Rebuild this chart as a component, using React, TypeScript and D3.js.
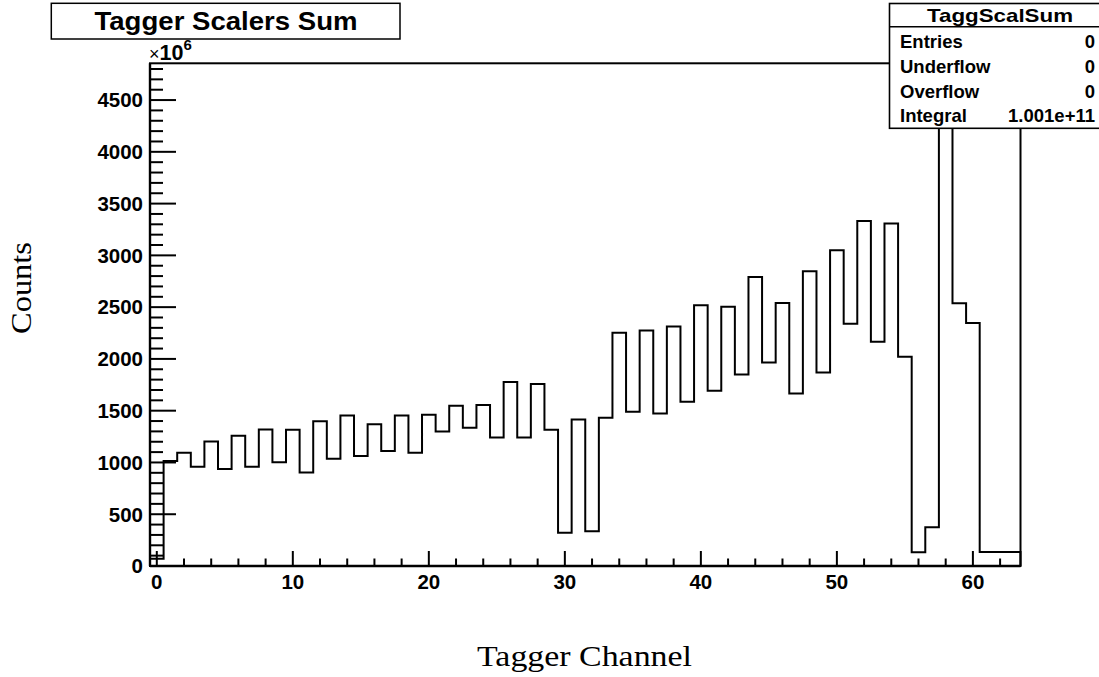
import React from "react";
import * as d3 from "d3";

// Tagger scaler sums per channel (units of 10^6 counts)
const channels: number[] = d3.range(0, 64);
const counts: number[] = [
  70, 1013, 1094, 959, 1203, 936, 1258, 959, 1319, 1001,
  1316, 904, 1397, 1036, 1454, 1062, 1368, 1110, 1454, 1094,
  1461, 1300, 1548, 1335, 1554, 1242, 1776, 1242, 1757, 1316,
  322, 1416, 335, 1432, 2252, 1490, 2275, 1474, 2314, 1586,
  2519, 1692, 2503, 1850, 2790, 1966, 2539, 1667, 2847, 1870,
  3050, 2339, 3333, 2165, 3308, 2020, 132, 375, 4620, 2538,
  2348, 135, 135, 135,
];
const xMajorTicks: number[] = [0, 10, 20, 30, 40, 50, 60];
const yMajorTicks: number[] = [0, 500, 1000, 1500, 2000, 2500, 3000, 3500, 4000, 4500];
const statsRows: [string, string][] = [
  ["Entries", "0"],
  ["Underflow", "0"],
  ["Overflow", "0"],
  ["Integral", "1.001e+11"],
];
const titleText = "Tagger Scalers Sum";
const statsTitle = "TaggScalSum";
const xTitle = "Tagger Channel";
const yTitle = "Counts";

const W = 1099;
const H = 677;
const L = 150, R = 1020.5, T = 63.3, B = 566;
const SANS = "'Liberation Sans', Arial, Helvetica, sans-serif";
const SERIF = "'Liberation Serif', 'Times New Roman', serif";

export default function App() {
  const x = d3.scaleLinear().domain([-0.5, 63.5]).range([L, R]);
  const y = d3.scaleLinear().domain([0, 4855]).range([B, T]);

  const pts: [number, number][] = [[-0.5, 0]];
  channels.forEach((c, i) => {
    pts.push([c - 0.5, counts[i]]);
    pts.push([c + 0.5, counts[i]]);
  });
  pts.push([63.5, 0]);
  const line = d3.line<[number, number]>().x((d) => x(d[0])).y((d) => y(d[1]));

  const xMinor = d3.range(0, 63.5, 2).filter((v) => v % 10 !== 0);
  const yMinor = d3.range(0, 4855, 100).filter((v) => v % 500 !== 0);

  const statsL = 889.5, statsR = 1110, statsT = 3.5, statsSep = 26.7, statsB = 128.3;
  const rowBase = [48, 73.2, 98.4, 122];

  return (
    <svg
      width={W}
      height={H}
      style={{ position: "fixed", left: 0, top: 0, background: "#fff" }}
    >
      <rect x={0} y={0} width={W} height={H} fill="#fff" />
      {/* frame */}
      <rect x={L} y={T} width={R - L} height={B - T} fill="none" stroke="#000" strokeWidth={2} />
      {/* histogram */}
      <path d={line(pts) || ""} fill="none" stroke="#000" strokeWidth={2} />
      {/* x axis */}
      <line x1={L} x2={R} y1={B} y2={B} stroke="#000" strokeWidth={2.4} />
      {xMajorTicks.map((t) => (
        <g key={"xm" + t}>
          <line x1={x(t)} x2={x(t)} y1={B} y2={B - 15} stroke="#000" strokeWidth={2} />
          <text x={x(t)} y={588.5} textAnchor="middle" fontFamily={SANS} fontWeight="bold" fontSize={20.5}>
            {t}
          </text>
        </g>
      ))}
      {xMinor.map((t) => (
        <line key={"xn" + t} x1={x(t)} x2={x(t)} y1={B} y2={B - 7.5} stroke="#000" strokeWidth={2} />
      ))}
      {/* y axis */}
      <line x1={L} x2={L} y1={T} y2={B} stroke="#000" strokeWidth={2.4} />
      {yMajorTicks.map((t) => (
        <g key={"ym" + t}>
          <line x1={L} x2={L + 26} y1={y(t)} y2={y(t)} stroke="#000" strokeWidth={2} />
          <text x={143} y={y(t) + 7.3} textAnchor="end" fontFamily={SANS} fontWeight="bold" fontSize={20.5}>
            {t}
          </text>
        </g>
      ))}
      {yMinor.map((t) => (
        <line key={"yn" + t} x1={L} x2={L + 13} y1={y(t)} y2={y(t)} stroke="#000" strokeWidth={2} />
      ))}
      {/* exponent */}
      <text x={149} y={60} fontFamily={SANS} fontSize={19}>
        <tspan fontWeight="normal" fontSize={18}>×</tspan>
        <tspan fontWeight="bold" fontSize={21.5}>10</tspan>
        <tspan fontWeight="bold" fontSize={15} dy={-10}>6</tspan>
      </text>
      {/* axis titles */}
      <text x={584.5} y={665.5} textAnchor="middle" fontFamily={SERIF} fontSize={30} textLength={215} lengthAdjust="spacingAndGlyphs">
        {xTitle}
      </text>
      <text
        transform={`translate(31,288) rotate(-90)`}
        textAnchor="middle"
        fontFamily={SERIF}
        fontSize={30}
        textLength={92}
        lengthAdjust="spacingAndGlyphs"
      >
        {yTitle}
      </text>
      {/* title box */}
      <rect x={51.3} y={3.3} width={348.7} height={35.7} fill="#fff" stroke="#000" strokeWidth={1.5} />
      <text x={226} y={30} textAnchor="middle" fontFamily={SANS} fontWeight="bold" fontSize={26.5} textLength={263} lengthAdjust="spacingAndGlyphs">
        {titleText}
      </text>
      {/* stats box */}
      <rect x={statsL} y={statsT} width={statsR - statsL} height={statsB - statsT} fill="#fff" stroke="#000" strokeWidth={1.6} />
      <line x1={statsL} x2={statsR} y1={statsSep} y2={statsSep} stroke="#000" strokeWidth={1.4} />
      <text x={1000} y={21.7} textAnchor="middle" fontFamily={SANS} fontWeight="bold" fontSize={18.5} textLength={146} lengthAdjust="spacingAndGlyphs">
        {statsTitle}
      </text>
      {statsRows.map(([k, v], i) => (
        <g key={k}>
          <text x={900} y={rowBase[i]} fontFamily={SANS} fontWeight="bold" fontSize={18.5}>
            {k}
          </text>
          <text x={1095} y={rowBase[i]} textAnchor="end" fontFamily={SANS} fontWeight="bold" fontSize={18.5}>
            {v}
          </text>
        </g>
      ))}
    </svg>
  );
}
